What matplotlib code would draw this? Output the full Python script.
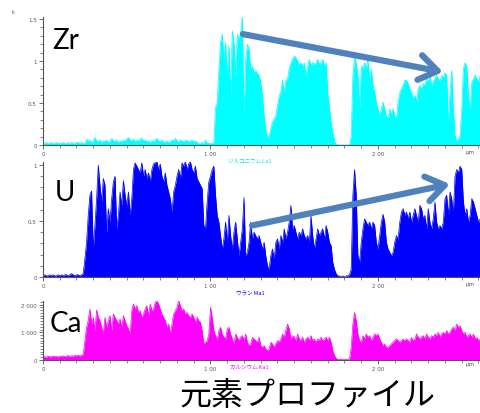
import matplotlib
matplotlib.use("Agg")
import matplotlib.pyplot as plt
from matplotlib.ticker import MultipleLocator
import numpy as np

# ---------------- data ----------------
x_um = np.arange(0, 262)  # position in micrometres

zr_counts = [
    0.02, 0.02, 0.03, 0.02, 0.02, 0.03, 0.02, 0.02, 0.03, 0.02,
    0.02, 0.02, 0.03, 0.02, 0.02, 0.03, 0.02, 0.03, 0.02, 0.02,
    0.03, 0.03, 0.02, 0.03, 0.02, 0.02,
    0.07, 0.04, 0.06, 0.03, 0.05, 0.09, 0.05, 0.04, 0.06, 0.03,
    0.05, 0.04, 0.06, 0.03, 0.04, 0.08, 0.05, 0.04, 0.06, 0.03,
    0.05, 0.04, 0.06, 0.05, 0.07, 0.09, 0.06, 0.05, 0.07, 0.04,
    0.06, 0.05, 0.07, 0.08, 0.05, 0.06, 0.04, 0.05, 0.03, 0.05,
    0.04, 0.06, 0.08, 0.05, 0.04, 0.06, 0.03, 0.04, 0.05, 0.03,
    0.04, 0.06, 0.05, 0.08, 0.05, 0.04, 0.06, 0.05, 0.04, 0.06,
    0.05, 0.04, 0.05, 0.06, 0.04, 0.05, 0.03, 0.02, 0.02, 0.03,
    0.02, 0.06, 0.02, 0.02, 0.02, 0.02, 0.03, 0.45,
    0.50, 0.90, 1.22, 1.32, 1.02, 1.22, 0.83, 1.18, 0.59, 1.36,
    1.22, 0.83, 1.32, 1.26, 1.34, 1.53, 0.31, 1.02, 1.20, 1.14,
    0.91, 0.94, 0.86, 0.89, 0.85, 0.83, 0.75, 0.59, 0.35, 0.19,
    0.09, 0.11, 0.19, 0.27, 0.31, 0.35, 0.47, 0.59, 0.63, 0.77,
    0.63, 0.77, 0.79, 0.91, 0.98, 1.02, 1.06, 1.04, 1.00, 0.96,
    0.98, 0.94, 0.98, 0.83, 0.93, 1.02, 0.94, 0.98, 0.96, 0.98,
    1.02, 0.96, 0.98, 1.02, 0.94, 0.98, 0.63, 0.43, 0.27, 0.15,
    0.05, 0.01, 0.00, 0.00, 0.00, 0.00, 0.00, 0.00, 0.00, 0.00,
    0.11, 0.83, 1.04, 0.98, 0.83, 0.43, 0.94, 0.91, 0.98, 0.91,
    1.02, 0.75, 0.91, 0.71, 0.63, 0.51, 0.43, 0.35, 0.43, 0.51,
    0.43, 0.35, 0.31, 0.43, 0.35, 0.43, 0.35, 0.31, 0.51, 0.63,
    0.67, 0.71, 0.77, 0.77, 0.73, 0.67, 0.63, 0.55, 0.59, 0.51,
    0.67, 0.71, 0.67, 0.73, 0.71, 0.79, 0.75, 0.83, 0.71, 0.75,
    0.79, 0.83, 0.79, 0.75, 0.83, 0.79, 0.86, 0.83, 0.23, 0.63,
    0.89, 0.43, 0.11, 0.05, 0.07, 0.11, 0.43, 0.91, 0.98, 0.93,
    0.59, 0.39, 0.75, 0.79, 0.83, 0.79, 0.75, 0.83,
]

u_counts = [
    0.01, 0.02, 0.01, 0.01, 0.02, 0.01, 0.02, 0.01, 0.01, 0.02,
    0.01, 0.02, 0.01, 0.02, 0.02, 0.01, 0.02, 0.03, 0.02, 0.01,
    0.02, 0.02, 0.01, 0.02, 0.03,
    0.16, 0.31, 0.55, 0.73, 0.77, 0.25, 0.46, 0.70, 1.00, 0.82,
    0.67, 0.88, 0.82, 0.40, 0.61, 0.49, 0.70, 0.85, 0.90, 0.43,
    0.55, 0.76, 0.64, 0.86, 0.73, 0.64, 0.76, 0.55, 0.70, 0.96,
    1.02, 0.99, 0.96, 0.93, 1.02, 0.90, 0.96, 0.88, 0.93, 0.85,
    0.96, 1.01, 1.02, 1.03, 0.96, 1.01, 0.90, 0.85, 0.93, 0.82,
    0.76, 0.70, 0.58, 0.76, 0.82, 0.90, 0.96, 0.88, 1.02, 0.99,
    1.03, 0.96, 1.01, 1.03, 0.96, 0.93, 0.99, 0.88, 0.85, 0.82,
    0.79, 0.46, 0.43, 0.67, 0.85, 0.90, 0.96,
    0.99, 0.73, 0.55, 0.49, 0.37, 0.25, 0.34, 0.49, 0.31, 0.55,
    0.37, 0.25, 0.40, 0.49, 0.34, 0.19, 0.31, 0.43, 0.71, 0.19,
    0.22, 0.31, 0.49, 0.34, 0.40, 0.37, 0.34, 0.37, 0.31, 0.25,
    0.31, 0.19, 0.10, 0.07, 0.19, 0.25, 0.16, 0.31, 0.34, 0.25,
    0.37, 0.31, 0.43, 0.34, 0.40, 0.49, 0.64, 0.43, 0.46, 0.40,
    0.34, 0.40, 0.37, 0.43, 0.37, 0.34, 0.37, 0.31, 0.55, 0.37,
    0.25, 0.34, 0.43, 0.37, 0.40, 0.43, 0.34, 0.46, 0.40, 0.31,
    0.28, 0.13, 0.07, 0.03, 0.01, 0.01, 0.00, 0.01, 0.00, 0.01,
    0.01, 0.02, 0.07, 0.73, 0.96, 0.73, 0.19, 0.13, 0.31, 0.43,
    0.52, 0.49, 0.46, 0.49, 0.43, 0.49, 0.46, 0.31, 0.25, 0.37,
    0.49, 0.56, 0.49, 0.31, 0.25, 0.22, 0.19, 0.22, 0.31, 0.37,
    0.34, 0.49, 0.58, 0.61, 0.55, 0.58, 0.52, 0.58, 0.49, 0.55,
    0.61, 0.55, 0.49, 0.64, 0.61, 0.52, 0.55, 0.43, 0.61, 0.49,
    0.43, 0.52, 0.67, 0.49, 0.43, 0.46, 0.43, 0.49, 0.70, 0.73,
    0.55, 0.76, 0.70, 0.58, 0.90, 0.96, 0.93, 0.99, 0.96, 0.67,
    0.55, 0.61, 0.49, 0.55, 0.70, 0.67, 0.61, 0.55, 0.49, 0.52,
]

ca_counts = [
    110, 120, 100, 130, 120, 110, 140, 120, 130, 110,
    140, 130, 150, 120, 140, 160, 130, 150, 140, 160,
    150, 170, 140, 180, 190,
    700, 1180, 1420, 1840, 1300, 1540, 1060, 1805, 1540, 1420,
    1180, 940, 1540, 1180, 1420, 1600, 1060, 1660, 1540, 1420,
    1300, 1480, 1180, 1600, 1420, 1240, 1120, 940, 1780, 2021,
    1840, 1961, 1720, 1780, 1540, 1660, 1840, 1961, 1600, 2021,
    1780, 1840, 2081, 2141, 2021, 1840, 1660, 1540, 1420, 1180,
    1300, 940, 1300, 1660, 1780, 1900, 2141, 1961, 1780, 1840,
    1660, 1720, 1600, 1540, 1660, 1540, 1360, 1540, 1420, 1360,
    1060, 580, 640, 700, 940, 1900, 1540, 1060, 880, 700,
    1060, 1180, 940, 820, 760, 1120, 1180, 940, 760, 580,
    940, 820, 700, 820, 880, 700, 940, 640, 520, 580,
    820, 760, 700, 640, 820, 520, 460, 520, 400, 340,
    400, 640, 580, 460, 580, 700, 640, 760, 940, 820,
    1060, 1300, 1120, 760, 880, 820, 700, 940, 760, 700,
    820, 640, 760, 820, 700, 880, 700, 760, 640, 760,
    700, 820, 700, 760, 820, 700, 820, 640, 340, 160,
    70, 25, 20, 25, 20, 25, 25, 20, 30, 460,
    1300, 1720, 1420, 940, 700, 640, 880, 760, 940, 820,
    880, 700, 820, 940, 880, 940, 760, 640, 520, 580,
    460, 460, 520, 580, 640, 700, 760, 700, 640, 700,
    760, 700, 760, 700, 640, 820, 700, 760, 940, 820,
    760, 820, 880, 760, 940, 820, 760, 880, 820, 940,
    880, 1000, 820, 940, 1000, 940, 1060, 940, 1000, 1120,
    1180, 1060, 1300, 1180, 1240, 1060, 940, 1000, 820, 880,
    940, 820, 940, 760, 820, 700, 760,
]

x_ticks = [0, 100, 200]
x_tick_labels = ["0", "1 00", "2 00"]
zr_yticks = [0, 0.5, 1, 1.5]
zr_ylabels = ["0", "0.5", "1", "1.5"]
u_yticks = [0, 0.5, 1]
u_ylabels = ["0", "0.5", "1"]
ca_yticks = [0, 1000, 2000]
ca_ylabels = ["0", "1 000", "2 000"]

# ---------------- figure ----------------
W, H = 481, 414
fig = plt.figure(figsize=(W / 100, H / 100), dpi=100)
JP = ["Noto Sans CJK JP", "DejaVu Sans"]
LAB = ["Lato", "DejaVu Sans"]
GREY = "#555555"


def ax_at(left, top, right, bottom):
    return fig.add_axes([left / W, 1 - bottom / H, (right - left) / W, (bottom - top) / H])


def style(ax, ymax, yticks, ylabels, yminor):
    ax.set_xlim(0, 261.5)
    ax.set_ylim(0, ymax)
    for s in ("top", "right"):
        ax.spines[s].set_visible(False)
    for s in ("left", "bottom"):
        ax.spines[s].set_color(GREY)
        ax.spines[s].set_linewidth(0.8)
    ax.set_xticks(x_ticks)
    ax.set_xticklabels(x_tick_labels)
    ax.xaxis.set_minor_locator(MultipleLocator(10))
    ax.set_yticks(yticks)
    ax.set_yticklabels(ylabels)
    ax.yaxis.set_minor_locator(MultipleLocator(yminor))
    ax.tick_params(which="major", length=3, width=0.6, colors=GREY, labelsize=4, pad=1.5)
    ax.tick_params(which="minor", length=2, width=0.5, colors=GREY)
    ax.set_facecolor("none")


arrow_color = "#4F81BD"
arrow_props = dict(arrowstyle="->,head_length=0.65,head_width=0.45", lw=4.5,
                   color=arrow_color, mutation_scale=20, shrinkA=0, shrinkB=0)

# Zr panel
ax1 = ax_at(43, 18, 481, 146)
ax1.fill_between(x_um, 0, zr_counts, color="#00FFFF", lw=0)
ax1.plot(x_um, zr_counts, color="#00FFFF", lw=0.5)
style(ax1, 1.524, zr_yticks, zr_ylabels, 0.1)
ax1.annotate("", xy=(238.8, 0.87), xytext=(119.4, 1.32), arrowprops=arrow_props,
             annotation_clip=False)

# U panel
ax2 = ax_at(43, 163, 481, 278)
ax2.fill_between(x_um, 0, u_counts, color="#0000FF", lw=0)
ax2.plot(x_um, u_counts, color="#0000FF", lw=0.5)
style(ax2, 1.027, u_yticks, u_ylabels, 0.1)
ax2.annotate("", xy=(243, 0.83), xytext=(124.8, 0.46), arrowprops=arrow_props,
             annotation_clip=False)

# Ca panel
ax3 = ax_at(43, 302, 481, 361)
ax3.fill_between(x_um, 0, ca_counts, color="#FF00FF", lw=0)
ax3.plot(x_um, ca_counts, color="#FF00FF", lw=0.5)
style(ax3, 2130, ca_yticks, ca_ylabels, 100)

# element labels
fig.text(52 / W, 1 - 41 / H, "Zr", fontsize=20, family=LAB, va="center", ha="left")
fig.text(55 / W, 1 - 193 / H, "U", fontsize=20, family=LAB, va="center", ha="left")
fig.text(50 / W, 1 - 324 / H, "Ca", fontsize=20, family=LAB, va="center", ha="left")

# small texts
fig.text(12 / W, 1 - 13 / H, "k", fontsize=4, color=GREY, va="center", ha="left")
fig.text(250 / W, 1 - 161 / H, "ジルコニウム La1", fontsize=4, color="#00E5E5",
         family=JP, va="center", ha="center")
fig.text(250 / W, 1 - 293 / H, "ウラン Ma1", fontsize=4, color="#0000FF",
         family=JP, va="center", ha="center")
fig.text(249 / W, 1 - 367 / H, "カルシウム Ka1", fontsize=4, color="#FF00FF",
         family=JP, va="center", ha="center")
for yy in (153, 285, 365):
    fig.text(470 / W, 1 - yy / H, "μm", fontsize=4, color=GREY, va="center", ha="center")

# title
fig.text(307 / W, 1 - 396 / H, "元素プロファイル", fontsize=23, family=JP,
         va="center", ha="center")

fig.savefig("out.png", dpi=100)
